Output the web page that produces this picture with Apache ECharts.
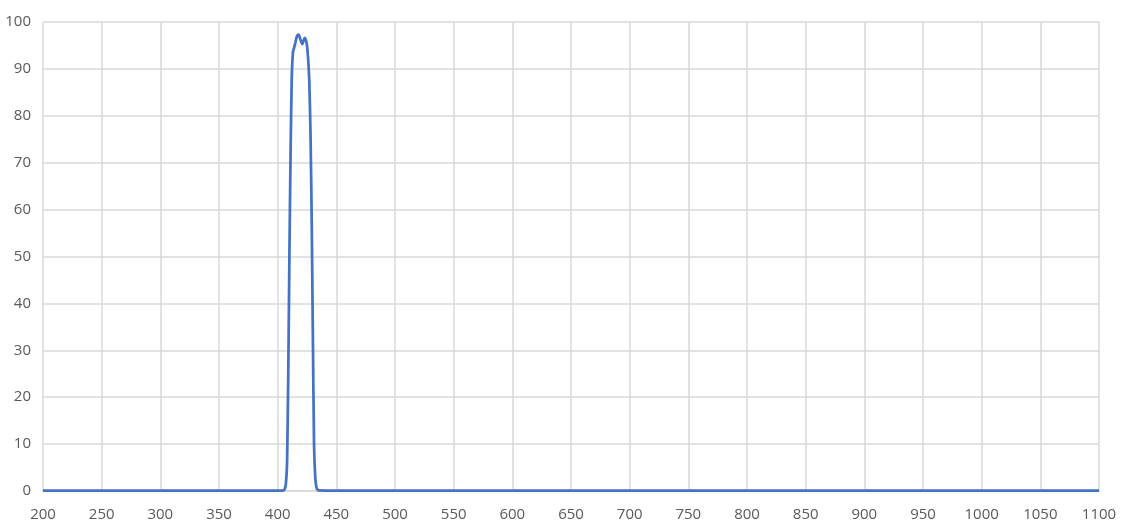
<!DOCTYPE html>
<html>
<head>
<meta charset="utf-8">
<script src="https://cdn.jsdelivr.net/npm/echarts@6/dist/echarts.min.js"></script>
<style>html,body{margin:0;padding:0;background:#fff;}#c{width:1123px;height:532px;}</style>
</head>
<body>
<div id="c"></div>
<script>
// Wavelength (nm) and transmission (%)
const wavelengths = [200, 300, 380, 400, 405, 406, 407, 408, 409, 410, 411, 412, 413, 414, 415, 416, 417, 418, 419, 420, 421, 422, 423, 424, 425, 426, 427, 428, 429, 430, 431, 432, 433, 434, 435, 450, 600, 800, 1000, 1100];
const transmission = [0.1, 0.1, 0.1, 0.1, 0.15, 0.4, 1.5, 6, 24, 50, 72, 88, 93.5, 94.5, 95.5, 96.6, 97.2, 97.3, 96.6, 95.8, 95.3, 96.0, 96.6, 96.2, 95, 92, 87, 76, 58, 33, 10, 3, 0.8, 0.3, 0.15, 0.1, 0.1, 0.1, 0.1, 0.1];
const xMin = 200, xMax = 1100, xStep = 50;
const yMin = 0, yMax = 100, yStep = 10;

const data = wavelengths.map((w, i) => [w, transmission[i]]);
const chart = echarts.init(document.getElementById('c'));
const labelStyle = { color: '#595959', fontSize: 15, fontFamily: 'Open Sans' };
chart.setOption({
  animation: false,
  backgroundColor: '#ffffff',
  grid: { left: 43, right: 24, top: 22, bottom: 41, containLabel: false },
  xAxis: {
    type: 'value', min: xMin, max: xMax, interval: xStep,
    axisLine: { show: true, lineStyle: { color: '#d9d9d9', width: 1.5 } },
    axisTick: { show: false },
    axisLabel: Object.assign({ margin: 16, formatter: v => String(v) }, labelStyle),
    splitLine: { show: true, lineStyle: { color: '#d9d9d9', width: 1.5 } }
  },
  yAxis: {
    type: 'value', min: yMin, max: yMax, interval: yStep,
    axisLine: { show: false },
    axisTick: { show: false },
    axisLabel: Object.assign({ margin: 12, formatter: v => String(v) }, labelStyle),
    splitLine: { show: true, lineStyle: { color: '#d9d9d9', width: 1.5 } }
  },
  series: [{
    type: 'line',
    data: data,
    showSymbol: false,
    smooth: 0.2,
    lineStyle: { color: '#4472C4', width: 2.75 },
    itemStyle: { color: '#4472C4' }
  }]
});
</script>
</body>
</html>
